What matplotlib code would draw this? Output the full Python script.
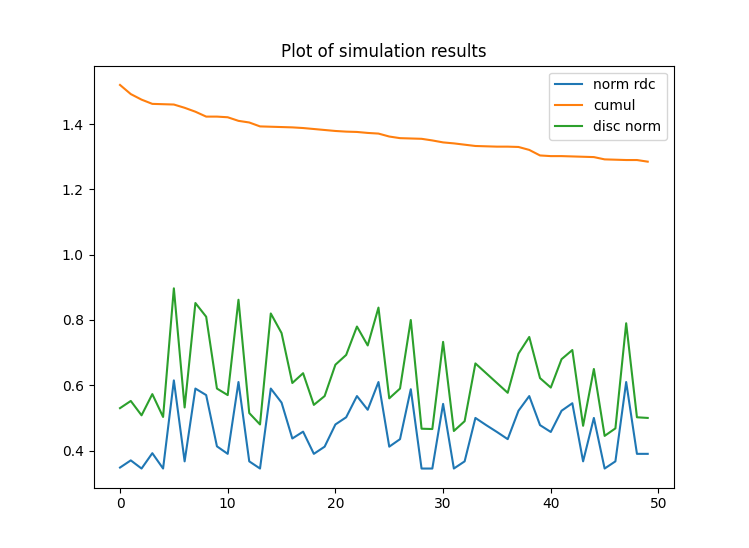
import matplotlib
matplotlib.use('Agg')
import matplotlib.pyplot as plt

steps = list(range(50))

norm_rdc = [0.348, 0.370, 0.345, 0.392, 0.345, 0.615, 0.367, 0.590, 0.570, 0.413,
            0.390, 0.610, 0.367, 0.345, 0.590, 0.547, 0.437, 0.458, 0.390, 0.412,
            0.480, 0.502, 0.567, 0.525, 0.610, 0.412, 0.435, 0.588, 0.345, 0.345,
            0.543, 0.345, 0.367, 0.500, 0.478, 0.457, 0.435, 0.522, 0.567, 0.478,
            0.457, 0.522, 0.545, 0.367, 0.500, 0.345, 0.367, 0.610, 0.390, 0.390]

cumul = [1.520, 1.492, 1.475, 1.462, 1.461, 1.460, 1.450, 1.438, 1.423, 1.423,
         1.421, 1.410, 1.405, 1.393, 1.392, 1.391, 1.390, 1.388, 1.385, 1.382,
         1.379, 1.377, 1.376, 1.373, 1.371, 1.362, 1.357, 1.356, 1.355, 1.350,
         1.344, 1.341, 1.337, 1.333, 1.332, 1.331, 1.331, 1.330, 1.321, 1.304,
         1.302, 1.302, 1.301, 1.300, 1.299, 1.292, 1.291, 1.290, 1.290, 1.285]

disc_norm = [0.530, 0.552, 0.508, 0.573, 0.503, 0.897, 0.532, 0.852, 0.810, 0.590,
             0.570, 0.862, 0.515, 0.480, 0.820, 0.760, 0.607, 0.637, 0.540, 0.567,
             0.663, 0.693, 0.780, 0.722, 0.838, 0.560, 0.590, 0.800, 0.467, 0.466,
             0.733, 0.460, 0.490, 0.667, 0.637, 0.607, 0.577, 0.697, 0.748, 0.622,
             0.593, 0.680, 0.708, 0.476, 0.650, 0.445, 0.468, 0.790, 0.502, 0.500]

fig, ax = plt.subplots(figsize=(7.49, 5.48), dpi=100)
ax.plot(steps, norm_rdc, label='norm rdc')
ax.plot(steps, cumul, label='cumul')
ax.plot(steps, disc_norm, label='disc norm')
ax.set_title('Plot of simulation results')
ax.legend()
fig.savefig('out.png')
